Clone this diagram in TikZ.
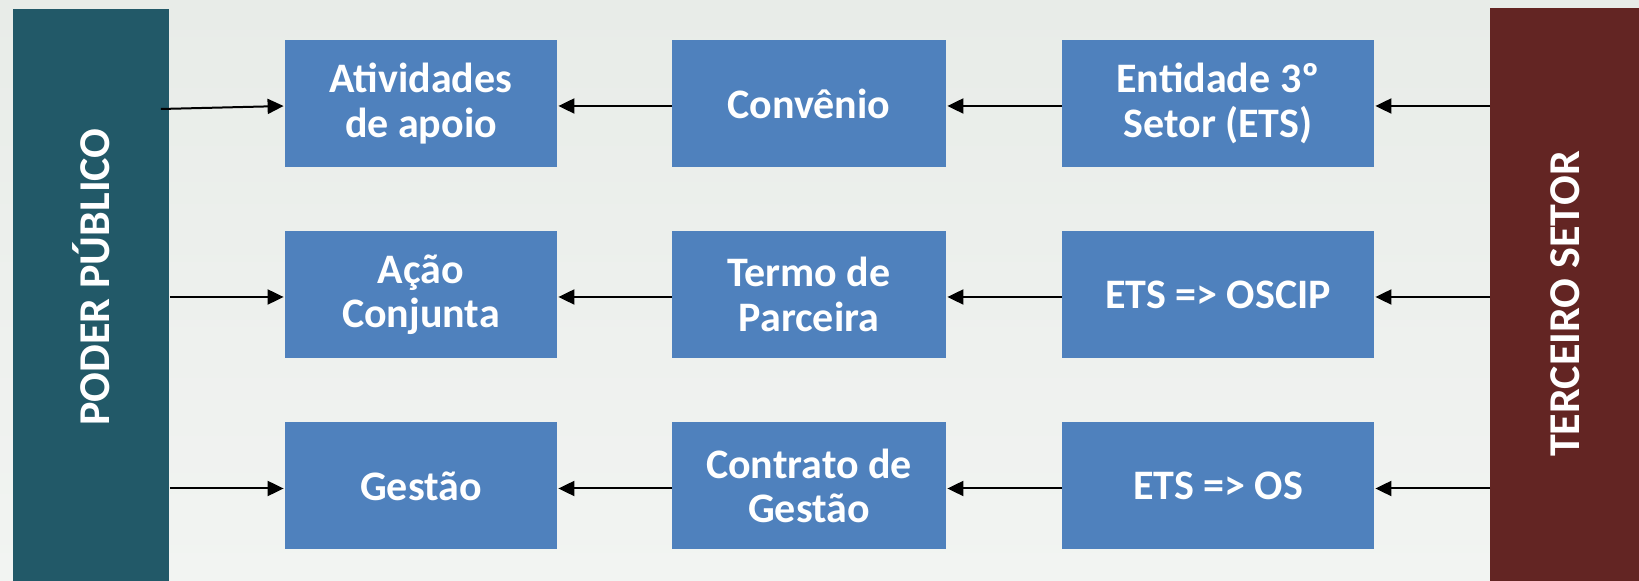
\documentclass[tikz,border=0pt]{standalone}
\usepackage{fontspec}
\setmainfont{Carlito}
\usetikzlibrary{positioning, arrows.meta}
\definecolor{boxblue}{RGB}{79,129,189}
\definecolor{poderteal}{RGB}{34,89,104}
\definecolor{setorred}{RGB}{99,37,35}
\definecolor{bgtop}{RGB}{232,236,232}
\definecolor{bgbot}{RGB}{242,244,242}

\begin{document}
\begin{tikzpicture}[x=0.5pt, y=-0.5pt,
    every node/.style={font=\fontsize{21}{22.2}\selectfont\bfseries, text=white},
    box/.style={fill=boxblue, minimum width=#1, minimum height=63.5pt, align=center, inner sep=0pt},
    box/.default=136pt,
    bar/.style={fill=#1, anchor=north west, minimum height=290pt, inner sep=0pt},
    barlbl/.style={rotate=90, font=\fontsize{22}{26}\selectfont\bfseries},
    arr/.style={-{Triangle[length=8pt, width=7.5pt]}, line width=1pt, black, shorten >=0.5pt},
]

% Background
\useasboundingbox (0,0) rectangle (1639,581);
\shade[top color=bgtop, middle color=white, bottom color=bgbot] (0,0) rectangle (1639,581);

% Side bars
\node[bar=poderteal, minimum width=78pt] (poder) at (13,9) {};
\node[barlbl] (poderlbl) at (91,277) {PODER PÚBLICO};
\node[bar=setorred, minimum width=75pt] (setor) at (1490,8) {};
\node[barlbl] (setorlbl) at (1565,304) {TERCEIRO SETOR};

% Row 1
\node[box] (apoio) at (421,103.5) {Atividades\\de apoio};
\node[box=137pt] (convenio) at (809,103.5) {Convênio};
\node[box=156pt] (ets) at (1218,103.5) {Entidade 3º\\Setor (ETS)};

% Row 2
\node[box] (acao) at (421,294.5) {Ação\\Conjunta};
\node[box=137pt] (termo) at (809,294.5) {Termo de\\Parceira};
\node[box=156pt] (oscip) at (1218,294.5) {ETS => OSCIP};

% Row 3
\node[box] (gestao) at (421,486) {Gestão};
\node[box=137pt] (contrato) at (809,486) {Contrato de\\Gestão};
\node[box=156pt] (os) at (1218,486) {ETS => OS};

% Arrows from the third sector bar
\foreach \r in {ets, oscip, os} {
    \draw[arr] ([yshift=-1.25pt]setor.west |- \r.east) -- ([yshift=-1.25pt]\r.east);
}

% Arrows between boxes
\foreach \a/\b in {ets/convenio, convenio/apoio, oscip/termo, termo/acao, os/contrato, contrato/gestao} {
    \draw[arr] ([yshift=-1.25pt]\a.west) -- ([yshift=-1.25pt]\b.east);
}

% Arrows from the public power bar
\draw[arr] ([xshift=-4.5pt, yshift=-2.75pt]poder.east |- apoio.west) -- ([yshift=-1.25pt]apoio.west);
\draw[arr] ([yshift=-1.25pt]poder.east |- acao.west) -- ([yshift=-1.25pt]acao.west);
\draw[arr] ([yshift=-1.25pt]poder.east |- gestao.west) -- ([yshift=-1.25pt]gestao.west);

\end{tikzpicture}
\end{document}
